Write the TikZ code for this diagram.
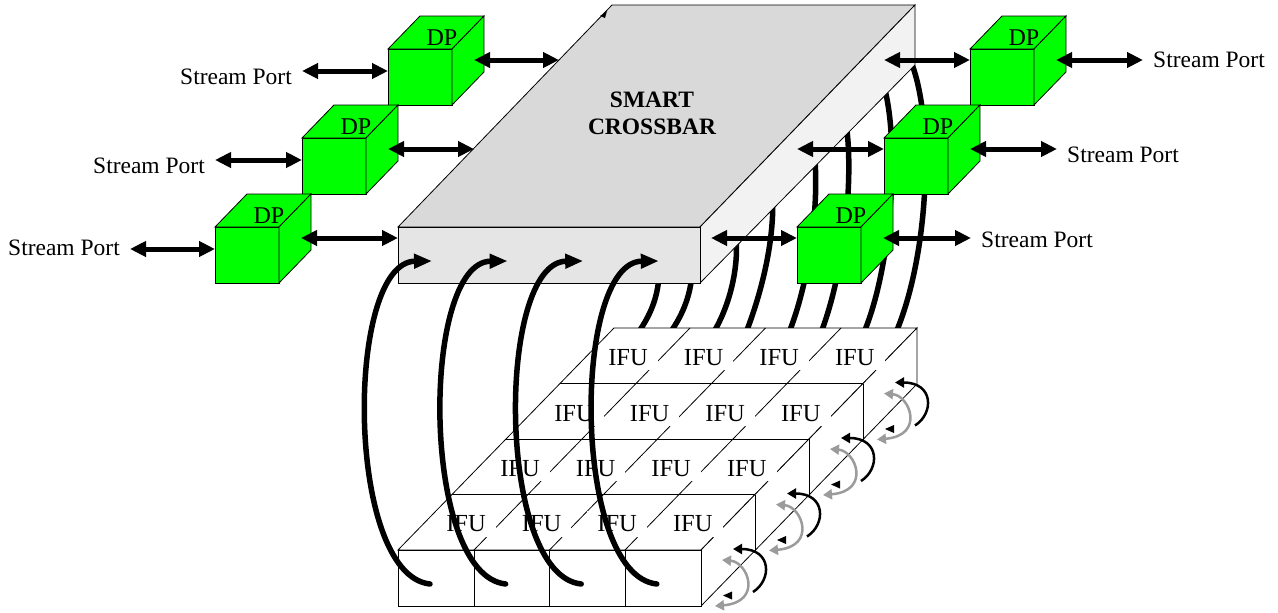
\documentclass[tikz,border=0pt]{standalone}
\usepackage{fontspec}
\setmainfont{Liberation Serif}
\usetikzlibrary{arrows.meta,calc}

\begin{document}
\begin{tikzpicture}[x=1pt,y=1pt,yscale=-1,xscale=1,
  dpbox/.style={draw, line width=0.8pt, fill={rgb, 255:red, 0; green, 255; blue, 0}, minimum width=64pt, minimum height=56pt, inner sep=0pt, outer sep=0pt},
  dpface/.style={draw, line width=0.8pt, fill={rgb, 255:red, 0; green, 255; blue, 0}},
  dplabel/.style={font=\fontsize{24}{27}\selectfont, inner sep=0pt},
  port/.style={font=\fontsize{23.5}{27}\selectfont, inner xsep=10pt, inner ysep=0pt},
  ifu/.style={font=\fontsize{24.5}{27}\selectfont, fill=white, inner xsep=10pt, inner ysep=4.5pt},
  slabface/.style={draw, line width=0.8pt, fill=white},
  slabline/.style={line width=0.8pt},
  biarrow/.style={line width=5pt, {Triangle[length=16pt,width=15pt]}-{Triangle[length=16pt,width=15pt]}},
  bigarc/.style={line width=5.5pt, line cap=round, -{Triangle[length=18pt,width=14pt]}},
  backarc/.style={line width=5.5pt},
  loopb/.style={line width=2.5pt, -{Triangle[length=9pt,width=10pt]}},
  loopg/.style={line width=2.5pt, draw={rgb, 255:red, 155; green, 155; blue, 155}, {Triangle[length=9pt,width=10pt]}-{Triangle[length=9pt,width=10pt]}}
]
%set diagram size to 1278 x 613
\useasboundingbox (0,0) rectangle (1278,613);

%Curve Lines (back links, behind crossbar)
\draw [backarc] (640,330) .. controls (652,312) and (658,295) .. (659,275) ;
\draw [backarc] (672,330) .. controls (684,312) and (690,295) .. (692,275) ;
\draw [backarc] (715,330) .. controls (732,300) and (740,260) .. (735,230) ;
\draw [backarc] (747,330) .. controls (768,275) and (778,215) .. (770,175) ;
\draw [backarc] (790,330) .. controls (815,265) and (822,170) .. (810,130) ;
\draw [backarc] (822,330) .. controls (848,260) and (856,150) .. (842,105) ;
\draw [backarc] (865,330) .. controls (895,255) and (900,120) .. (880,75) ;
\draw [backarc] (897,330) .. controls (930,250) and (935,110) .. (908,55) ;

%Shape: Cube (IFU array)
\draw [slabface] (398,550) -- (614,328) -- (917,328) -- (701,550) -- cycle ;
\draw [slabface] (701,550) -- (917,328) -- (917,384) -- (701,606) -- cycle ;
\draw [slabface] (398,550) rectangle (701,606) ;
%Straight Lines
\draw [slabline] (474,550) -- (474,606) ;
\draw [slabline] (549.5,550) -- (549.5,606) ;
\draw [slabline] (625,550) -- (625,606) ;
\draw [slabline] (755,494.5) -- (755,550.5) ;
\draw [slabline] (809,439) -- (809,495) ;
\draw [slabline] (863,383.5) -- (863,439.5) ;
\draw [slabline] (452,494.5) -- (755,494.5) ;
\draw [slabline] (506,439) -- (809,439) ;
\draw [slabline] (560,383.5) -- (863,383.5) ;
\draw [slabline] (474,550) -- (690,328) ;
\draw [slabline] (549.5,550) -- (765.5,328) ;
\draw [slabline] (625,550) -- (841,328) ;

% Text Node
\draw (466,524) node (ifu11) [ifu] {IFU};
% Text Node
\draw (541.6,524) node (ifu12) [ifu] {IFU};
% Text Node
\draw (617.2,524) node (ifu13) [ifu] {IFU};
% Text Node
\draw (692.8,524) node (ifu14) [ifu] {IFU};
% Text Node
\draw (520,468.8) node (ifu21) [ifu] {IFU};
% Text Node
\draw (595.6,468.8) node (ifu22) [ifu] {IFU};
% Text Node
\draw (671.2,468.8) node (ifu23) [ifu] {IFU};
% Text Node
\draw (746.8,468.8) node (ifu24) [ifu] {IFU};
% Text Node
\draw (574,413.3) node (ifu31) [ifu] {IFU};
% Text Node
\draw (649.6,413.3) node (ifu32) [ifu] {IFU};
% Text Node
\draw (725.2,413.3) node (ifu33) [ifu] {IFU};
% Text Node
\draw (800.8,413.3) node (ifu34) [ifu] {IFU};
% Text Node
\draw (628,357.8) node (ifu41) [ifu] {IFU};
% Text Node
\draw (703.6,357.8) node (ifu42) [ifu] {IFU};
% Text Node
\draw (779.2,357.8) node (ifu43) [ifu] {IFU};
% Text Node
\draw (854.8,357.8) node (ifu44) [ifu] {IFU};

%Shape: Cube (crossbar)
\draw [line width=0.8pt, fill={rgb, 255:red, 217; green, 217; blue, 217}] (398,227) -- (612,5) -- (915,5) -- (700,227) -- cycle ;
\draw [line width=0.8pt, fill={rgb, 255:red, 242; green, 242; blue, 242}] (700,227) -- (915,5) -- (915,65) -- (700,283) -- cycle ;
\draw [line width=0.8pt, fill={rgb, 255:red, 229; green, 229; blue, 229}] (398,227) rectangle (700,283) ;
\fill (600,16) -- (607,11) -- (605,18) -- cycle ;
% Text Node
\draw (652,113) node (xbar) [font=\bfseries\fontsize{23.5}{27}\selectfont, align=center] {SMART\\CROSSBAR};
\coordinate (xbl1) at (559,60);
\coordinate (xbl2) at (474,149);
\coordinate (xbl3) at (398,238);
\coordinate (xbr1) at (884,60);
\coordinate (xbr2) at (797,149);
\coordinate (xbr3) at (711,238);

%Shape: Cube (DP, left)
\draw (420,77) node (dpl1) [dpbox] {};
\draw [dpface] (dpl1.north west) -- ++(32,-33) -- ++(64,0) -- (dpl1.north east) -- cycle ;
\draw [dpface] (dpl1.north east) -- ++(32,-33) -- ++(0,56) -- (dpl1.south east) -- cycle ;
\draw (442,38) node (dpl1t) [dplabel] {DP};
%Shape: Cube
\draw (334,166) node (dpl2) [dpbox] {};
\draw [dpface] (dpl2.north west) -- ++(32,-33) -- ++(64,0) -- (dpl2.north east) -- cycle ;
\draw [dpface] (dpl2.north east) -- ++(32,-33) -- ++(0,56) -- (dpl2.south east) -- cycle ;
\draw (356,127) node (dpl2t) [dplabel] {DP};
%Shape: Cube
\draw (247,255) node (dpl3) [dpbox] {};
\draw [dpface] (dpl3.north west) -- ++(32,-33) -- ++(64,0) -- (dpl3.north east) -- cycle ;
\draw [dpface] (dpl3.north east) -- ++(32,-33) -- ++(0,56) -- (dpl3.south east) -- cycle ;
\draw (269,216) node (dpl3t) [dplabel] {DP};

%Shape: Cube (DP, right)
\draw (1002,77) node (dpr1) [dpbox] {};
\draw [dpface] (dpr1.north west) -- ++(32,-33) -- ++(64,0) -- (dpr1.north east) -- cycle ;
\draw [dpface] (dpr1.north east) -- ++(32,-33) -- ++(0,56) -- (dpr1.south east) -- cycle ;
\draw (1024,38) node (dpr1t) [dplabel] {DP};
%Shape: Cube
\draw (916,166) node (dpr2) [dpbox] {};
\draw [dpface] (dpr2.north west) -- ++(32,-33) -- ++(64,0) -- (dpr2.north east) -- cycle ;
\draw [dpface] (dpr2.north east) -- ++(32,-33) -- ++(0,56) -- (dpr2.south east) -- cycle ;
\draw (938,127) node (dpr2t) [dplabel] {DP};
%Shape: Cube
\draw (829,255) node (dpr3) [dpbox] {};
\draw [dpface] (dpr3.north west) -- ++(32,-33) -- ++(64,0) -- (dpr3.north east) -- cycle ;
\draw [dpface] (dpr3.north east) -- ++(32,-33) -- ++(0,56) -- (dpr3.south east) -- cycle ;
\draw (851,216) node (dpr3t) [dplabel] {DP};

% Text Node
\draw (302,77) node (sl1) [port, anchor=east] {Stream Port};
% Text Node
\draw (215,165.5) node (sl2) [port, anchor=east] {Stream Port};
% Text Node
\draw (130,248) node (sl3) [port, anchor=east] {Stream Port};
% Text Node
\draw (1143,60) node (sr1) [port, anchor=west] {Stream Port};
% Text Node
\draw (1057,155) node (sr2) [port, anchor=west] {Stream Port};
% Text Node
\draw (971,240) node (sr3) [port, anchor=west] {Stream Port};

%Straight Lines
\draw [biarrow] ($(sl1.east)+(0,-6)$) -- ($(dpl1.west)+(0,-6)$) ;
\draw [biarrow] ($(sl2.east)+(0,-5.5)$) -- ($(dpl2.west)+(0,-6)$) ;
\draw [biarrow] ($(sl3.east)+(0,1)$) -- ($(dpl3.west)+(0,-6)$) ;
\draw [biarrow] ($(dpl1.east)+(22,-17)$) -- (xbl1) ;
\draw [biarrow] ($(dpl2.east)+(22,-17)$) -- (xbl2) ;
\draw [biarrow] ($(dpl3.east)+(22,-17)$) -- (xbl3) ;
\draw [biarrow] (xbr1) -- ($(dpr1.west)+(0,-17)$) ;
\draw [biarrow] (xbr2) -- ($(dpr2.west)+(0,-17)$) ;
\draw [biarrow] (xbr3) -- ($(dpr3.west)+(0,-17)$) ;
\draw [biarrow] ($(dpr1.east)+(22,-17)$) -- (sr1.west) ;
\draw [biarrow] ($(dpr2.east)+(22,-17)$) -- ($(sr2.west)+(0,-6)$) ;
\draw [biarrow] ($(dpr3.east)+(22,-17)$) -- ($(sr3.west)+(0,-2)$) ;

%Curve Lines (IFU columns to crossbar)
\coordinate (col1) at (430,584);
\coordinate (col2) at (505.6,584);
\coordinate (col3) at (581.2,584);
\coordinate (col4) at (656.8,584);
\coordinate (in1) at (432,261);
\coordinate (in2) at (507.6,261);
\coordinate (in3) at (583.2,261);
\coordinate (in4) at (658.8,261);
\draw [bigarc] (col1) .. controls +(-85,-9) and +(-87,1) .. (in1) ;
\draw [bigarc] (col2) .. controls +(-85,-9) and +(-87,1) .. (in2) ;
\draw [bigarc] (col3) .. controls +(-85,-9) and +(-87,1) .. (in3) ;
\draw [bigarc] (col4) .. controls +(-85,-9) and +(-87,1) .. (in4) ;

%Curve Lines (row loops)
\draw [loopg] (722,560) .. controls (748,562) and (763,602) .. (715,606) ;
\draw [loopb] (753,592) .. controls (772,580) and (772,549) .. (733,549) ;
\fill (723,595.5) -- (732,591.5) -- (732,599.5) -- cycle ;
\draw [loopg] (776,504.5) .. controls (802,506.5) and (817,546.5) .. (769,550.5) ;
\draw [loopb] (807,536.5) .. controls (826,524.5) and (826,493.5) .. (787,493.5) ;
\fill (777,540) -- (786,536) -- (786,544) -- cycle ;
\draw [loopg] (830,449) .. controls (856,451) and (871,491) .. (823,495) ;
\draw [loopb] (861,481) .. controls (880,469) and (880,438) .. (841,438) ;
\fill (831,484.5) -- (840,480.5) -- (840,488.5) -- cycle ;
\draw [loopg] (884,393.5) .. controls (910,395.5) and (925,435.5) .. (877,439.5) ;
\draw [loopb] (915,425.5) .. controls (934,413.5) and (934,382.5) .. (895,382.5) ;
\fill (885,429) -- (894,425) -- (894,433) -- cycle ;

\end{tikzpicture}
\end{document}
